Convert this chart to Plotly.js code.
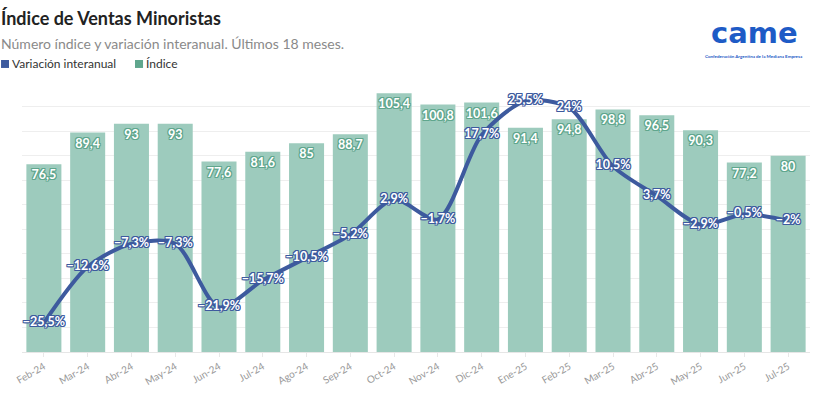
<!DOCTYPE html>
<html><head><meta charset="utf-8">
<script src="https://cdn.plot.ly/plotly-3.0.1.min.js"></script>
<style>html,body{margin:0;padding:0;background:#fff;}#chart{width:828px;height:395px;}</style>
</head><body><div id="chart"></div>
<script>
const months = ["Feb-24","Mar-24","Abr-24","May-24","Jun-24","Jul-24","Ago-24","Sep-24","Oct-24","Nov-24","Dic-24","Ene-25","Feb-25","Mar-25","Abr-25","May-25","Jun-25","Jul-25"];
const indice = [76.5, 89.4, 93, 93, 77.6, 81.6, 85, 88.7, 105.4, 100.8, 101.6, 91.4, 94.8, 98.8, 96.5, 90.3, 77.2, 80];
const variacion = [-25.5, -12.6, -7.3, -7.3, -21.9, -15.7, -10.5, -5.2, 2.9, -1.7, 17.7, 25.5, 24, 10.5, 3.7, -2.9, -0.5, -2];

const BLUE = '#3d5a9e';
const GREEN_BAR = '#9dcbbd';
const GREEN_DARK = '#5fa68d';
const FONT = 'Lato, "Noto Sans", sans-serif';
function outline(c){return `-1px -1px 0 ${c}, 1px -1px 0 ${c}, -1px 1px 0 ${c}, 1px 1px 0 ${c}, 0 1px 0 ${c}, 0 -1px 0 ${c}, 1px 0 0 ${c}, -1px 0 0 ${c}`;}

const traces = [
  {
    type:'bar', x: months, y: indice, name:'Índice',
    marker:{color:GREEN_BAR},
    texttemplate:'%{y}', textposition:'inside', insidetextanchor:'end', textangle:0,
    constraintext:'none',
    textfont:{family:FONT, size:12.5, color:'#ffffff', weight:700, shadow: outline('#5fa68d')},
    hoverinfo:'x+y', showlegend:false, cliponaxis:false
  },
  {
    type:'scatter', mode:'lines+text', x: months, y: variacion, yaxis:'y2', name:'Variación interanual',
    line:{color:BLUE, width:4, shape:'spline', smoothing:0.8},
    texttemplate:'%{y}%', textposition:'middle center',
    textfont:{family:FONT, size:12.5, color:'#ffffff', weight:700, shadow: outline(BLUE)},
    showlegend:false, cliponaxis:false
  }
];

const layout = {
  width:828, height:395,
  margin:{l:22, r:18, t:82, b:43},
  paper_bgcolor:'#ffffff', plot_bgcolor:'#ffffff',
  separators:',.',
  bargap:0.2,
  font:{family:FONT, color:'#333'},
  xaxis:{
    type:'category', range:[-0.5, 17.5], tickangle:-30, tickfont:{family:FONT, size:10, color:'#999'},
    ticks:'outside', ticklen:4, tickcolor:'#e8e8e8', showline:true, linecolor:'#e6e6e6', linewidth:1,
    showgrid:false, fixedrange:true
  },
  yaxis:{
    range:[0,110], dtick:10, showticklabels:false, showgrid:true, gridcolor:'#eeeeee', gridwidth:1,
    zeroline:false, fixedrange:true
  },
  yaxis2:{
    overlaying:'y', side:'right', range:[-32.2,29.9], visible:false, showgrid:false, zeroline:false
  },
  shapes:[
    {type:'rect', xref:'paper', yref:'paper', x0:-0.0266, x1:-0.0165, y0:1.052, y1:1.0815, fillcolor:BLUE, line:{width:0}},
    {type:'rect', xref:'paper', yref:'paper', x0:0.1434, x1:0.1536, y0:1.052, y1:1.0815, fillcolor:GREEN_DARK, line:{width:0}}
  ],
  annotations:[
    {xref:'paper', yref:'paper', x:-0.029, y:1.237, xanchor:'left', yanchor:'middle', showarrow:false,
     text:'<b>Índice de Ventas Minoristas</b>', font:{family:FONT, size:18, color:'#222'}},
    {xref:'paper', yref:'paper', x:-0.029, y:1.144, xanchor:'left', yanchor:'middle', showarrow:false,
     text:'Número índice y variación interanual. Últimos 18 meses.', font:{family:FONT, size:14, color:'#8a8a8a'}},
    {xref:'paper', yref:'paper', x:-0.0155, y:1.067, xanchor:'left', yanchor:'middle', showarrow:false,
     text:'Variación interanual', font:{family:FONT, size:12, color:'#333'}},
    {xref:'paper', yref:'paper', x:0.1545, y:1.067, xanchor:'left', yanchor:'middle', showarrow:false,
     text:'Índice', font:{family:FONT, size:12, color:'#333'}},
    {xref:'paper', yref:'paper', x:0.929, y:1.181, xanchor:'center', yanchor:'middle', showarrow:false,
     text:'<b>came</b>', font:{family:'"DejaVu Sans", sans-serif', size:29, color:'#1e5bc6'}},
    {xref:'paper', yref:'paper', x:0.929, y:1.093, xanchor:'center', yanchor:'middle', showarrow:false,
     text:'<b>Confederación Argentina de la Mediana Empresa</b>', font:{family:FONT, size:4.5, color:'#1e5bc6'}}
  ]
};

Plotly.newPlot('chart', traces, layout, {displayModeBar:false, staticPlot:true});
</script></body></html>
